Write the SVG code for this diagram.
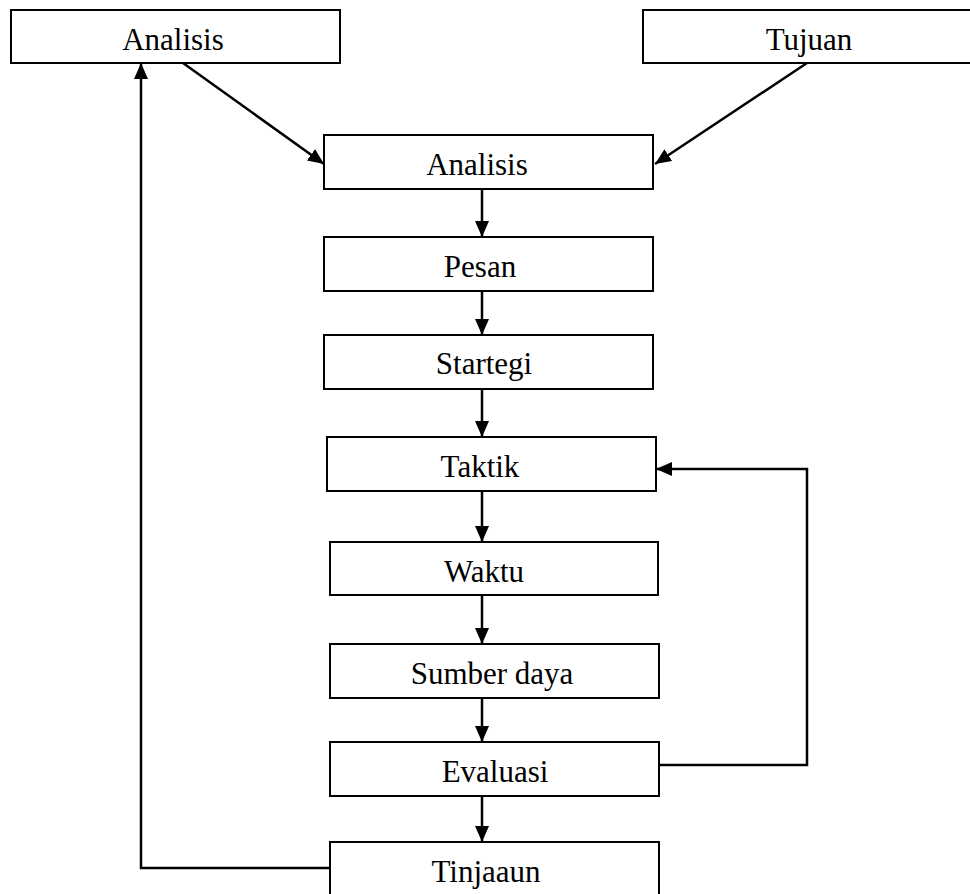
<svg xmlns="http://www.w3.org/2000/svg" width="970" height="894" viewBox="0 0 970 894">
<style>
.box{fill:#fff;stroke:#000;stroke-width:2}
.lbl{font-family:"Liberation Serif","Times New Roman",serif;font-size:31px;fill:#000;text-anchor:middle}
.con{fill:none;stroke:#000;stroke-width:2.5}
</style>
<defs>
<marker id="ah" markerUnits="userSpaceOnUse" markerWidth="17" markerHeight="14" refX="16" refY="7" orient="auto">
<path d="M0,0 L16,7 L0,14 z" fill="#000"/>
</marker>
</defs>
<rect width="970" height="894" fill="#fff"/>
<g id="connectors">
<line class="con" x1="183" y1="63" x2="324" y2="164" marker-end="url(#ah)"/>
<line class="con" x1="807" y1="63" x2="655" y2="164" marker-end="url(#ah)"/>
<line class="con" x1="482" y1="189" x2="482" y2="237" marker-end="url(#ah)"/>
<line class="con" x1="482" y1="291" x2="482" y2="335" marker-end="url(#ah)"/>
<line class="con" x1="482" y1="389" x2="482" y2="437" marker-end="url(#ah)"/>
<line class="con" x1="482" y1="491" x2="482" y2="542" marker-end="url(#ah)"/>
<line class="con" x1="482" y1="595" x2="482" y2="644" marker-end="url(#ah)"/>
<line class="con" x1="482" y1="698" x2="482" y2="742" marker-end="url(#ah)"/>
<line class="con" x1="482" y1="796" x2="482" y2="842" marker-end="url(#ah)"/>
<path class="con" d="M656,765 H807 V469 H656" marker-end="url(#ah)"/>
<path class="con" d="M330,868 H141 V63" marker-end="url(#ah)"/>
</g>
<g id="analisis1"><rect class="box" x="11" y="10" width="329" height="53"/><text class="lbl" x="173" y="50">Analisis</text></g>
<g id="tujuan"><rect class="box" x="643" y="10" width="340" height="53"/><text class="lbl" x="809" y="50">Tujuan</text></g>
<g id="analisis2"><rect class="box" x="324" y="135" width="329" height="54"/><text class="lbl" x="477" y="175">Analisis</text></g>
<g id="pesan"><rect class="box" x="324" y="237" width="329" height="54"/><text class="lbl" x="480" y="277">Pesan</text></g>
<g id="startegi"><rect class="box" x="324" y="335" width="329" height="54"/><text class="lbl" x="484" y="374">Startegi</text></g>
<g id="taktik"><rect class="box" x="327" y="437" width="329" height="54"/><text class="lbl" x="480" y="477">Taktik</text></g>
<g id="waktu"><rect class="box" x="330" y="542" width="328" height="53"/><text class="lbl" x="484" y="582">Waktu</text></g>
<g id="sumberdaya"><rect class="box" x="330" y="644" width="329" height="54"/><text class="lbl" x="492" y="684">Sumber daya</text></g>
<g id="evaluasi"><rect class="box" x="330" y="742" width="329" height="54"/><text class="lbl" x="495" y="782">Evaluasi</text></g>
<g id="tinjaaun"><rect class="box" x="330" y="842" width="329" height="60"/><text class="lbl" x="486" y="882">Tinjaaun</text></g>
</svg>
